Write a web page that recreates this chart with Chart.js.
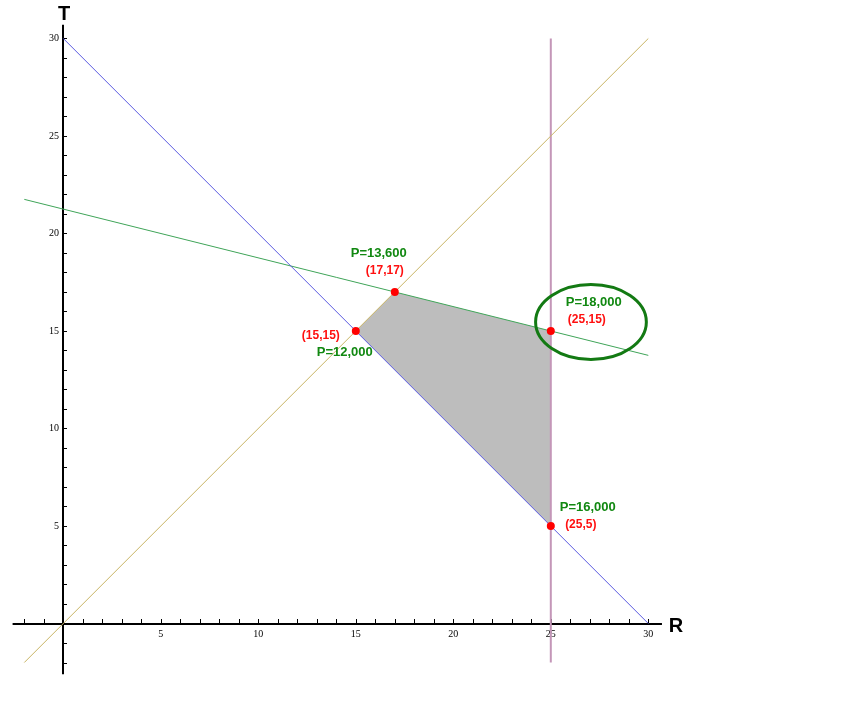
<!DOCTYPE html>
<html>
<head>
<meta charset="utf-8">
<script src="https://cdn.jsdelivr.net/npm/chart.js@4.4.1/dist/chart.umd.min.js"></script>
<style>
  html, body { margin: 0; padding: 0; background: #fff; }
  #wrap { width: 852px; height: 707px; position: relative; }
</style>
</head>
<body>
<div id="wrap"><canvas id="lp-chart"></canvas></div>
<script>
// constraint lines, as [x, y] end points
const LINE_BLUE = [[0, 30], [30, 0]];          // R + T = 30
const LINE_ORANGE = [[-2, -2], [30, 30]];      // T = R
const LINE_GREEN = [[-2, 21.75], [30, 13.75]]; // R + 4T = 85
const LINE_PURPLE = [[25, -2], [25, 30]];      // R = 25

// feasible region corners
const REGION = [[15, 15], [17, 17], [25, 15], [25, 5]];

// corner labels
const CORNER_PROFIT = ["P=12,000", "P=13,600", "P=18,000", "P=16,000"];
const CORNER_COORD = ["(15,15)", "(17,17)", "(25,15)", "(25,5)"];

// axis ticks
const AXIS_MIN = -2.6;
const AXIS_MAX = 30.7;
const TICK_LABELS = [5, 10, 15, 20, 25, 30];

const toXY = (arr) => arr.map(([x, y]) => ({ x, y }));

function lineSet(pts, color, width) {
  return {
    type: "scatter",
    data: toXY(pts),
    showLine: true,
    borderColor: color,
    borderWidth: width,
    pointRadius: 0,
    fill: false,
    order: 2,
  };
}

// label offsets in pixels from each corner: [profit dx, dy, coord dx, dy]
const LABEL_OFFSETS = [
  [-11, 21, -35, 5],
  [-16, -39, -10, -21],
  [43, -29, 36, -11],
  [37, -19, 30, -1],
];

const axesPlugin = {
  id: "axesPlugin",
  beforeDatasetsDraw(chart) {
    const { ctx, scales } = chart;
    const xs = scales.x, ys = scales.y;
    const ox = Math.round(xs.getPixelForValue(0)), oy = Math.round(ys.getPixelForValue(0));
    ctx.save();
    ctx.strokeStyle = "#000";
    ctx.lineWidth = 2;
    ctx.beginPath();
    ctx.moveTo(xs.getPixelForValue(AXIS_MIN), oy);
    ctx.lineTo(xs.getPixelForValue(AXIS_MAX), oy);
    ctx.moveTo(ox, ys.getPixelForValue(AXIS_MAX));
    ctx.lineTo(ox, ys.getPixelForValue(AXIS_MIN));
    ctx.stroke();
    ctx.lineWidth = 1;
    ctx.beginPath();
    for (let v = -2; v <= 30; v++) {
      if (v === 0) continue;
      const px = Math.round(xs.getPixelForValue(v)) + 0.5;
      ctx.moveTo(px, oy);
      ctx.lineTo(px, oy - 5);
      const py = Math.round(ys.getPixelForValue(v)) + 0.5;
      ctx.moveTo(ox, py);
      ctx.lineTo(ox + 4, py);
    }
    ctx.stroke();
    ctx.fillStyle = "#000";
    ctx.font = "10px 'Liberation Serif', serif";
    ctx.textAlign = "center";
    ctx.textBaseline = "top";
    TICK_LABELS.forEach((v) => ctx.fillText(String(v), xs.getPixelForValue(v), oy + 5));
    ctx.textAlign = "right";
    ctx.textBaseline = "middle";
    TICK_LABELS.forEach((v) => ctx.fillText(String(v), ox - 4, ys.getPixelForValue(v)));
    ctx.font = "bold 20px 'Liberation Sans', Arial, sans-serif";
    ctx.textAlign = "center";
    ctx.fillText("T", ox + 1, ys.getPixelForValue(31.25));
    ctx.fillText("R", xs.getPixelForValue(31.42), oy + 2);
    ctx.restore();
  },
  afterDatasetsDraw(chart) {
    const { ctx, scales } = chart;
    const xs = scales.x, ys = scales.y;
    ctx.save();
    ctx.textAlign = "center";
    ctx.textBaseline = "middle";
    REGION.forEach(([x, y], i) => {
      const px = xs.getPixelForValue(x), py = ys.getPixelForValue(y);
      const o = LABEL_OFFSETS[i];
      ctx.font = "bold 13px 'Liberation Sans', Arial, sans-serif";
      ctx.fillStyle = "#118811";
      ctx.fillText(CORNER_PROFIT[i], px + o[0], py + o[1]);
      ctx.font = "bold 12px 'Liberation Sans', Arial, sans-serif";
      ctx.fillStyle = "#ff1010";
      ctx.fillText(CORNER_COORD[i], px + o[2], py + o[3]);
    });
    // highlight the optimum
    const cx = xs.getPixelForValue(27.06), cy = ys.getPixelForValue(15.46);
    const rx = xs.getPixelForValue(27.06 + 2.84) - cx;
    const ry = cy - ys.getPixelForValue(15.46 + 1.92);
    ctx.strokeStyle = "#137a13";
    ctx.lineWidth = 3;
    ctx.beginPath();
    ctx.ellipse(cx, cy, rx, ry, 0, 0, Math.PI * 2);
    ctx.stroke();
    ctx.restore();
  },
};

const chart = new Chart(document.getElementById("lp-chart"), {
  type: "scatter",
  data: {
    datasets: [
      {
        type: "scatter",
        data: toXY(REGION),
        pointRadius: 4,
        pointBackgroundColor: "#ff0000",
        pointBorderWidth: 0,
        showLine: false,
        order: 0,
      },
      lineSet(LINE_BLUE, "#5a5ae0", 1),
      lineSet(LINE_ORANGE, "#c8b464", 1),
      lineSet(LINE_GREEN, "#3fa458", 1),
      lineSet(LINE_PURPLE, "#c496b8", 2),
      {
        type: "scatter",
        data: toXY(REGION.concat([REGION[0]])),
        showLine: true,
        borderWidth: 0,
        borderColor: "rgba(0,0,0,0)",
        backgroundColor: "#bdbdbd",
        pointRadius: 0,
        fill: "shape",
        order: 5,
      },
    ],
  },
  options: {
    responsive: true,
    maintainAspectRatio: false,
    animation: false,
    layout: { padding: 0, autoPadding: false },
    plugins: { legend: { display: false }, tooltip: { enabled: false } },
    scales: {
      x: { type: "linear", display: false, min: -3.246, max: 40.446 },
      y: { type: "linear", display: false, min: -4.282, max: 31.974 },
    },
  },
  plugins: [axesPlugin],
});
</script>
</body>
</html>
